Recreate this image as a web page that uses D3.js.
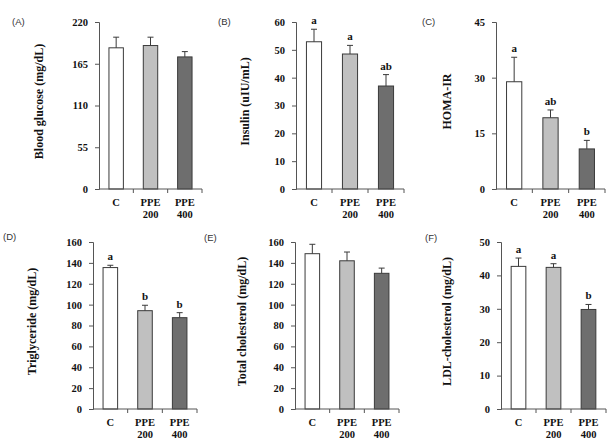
<!DOCTYPE html>
<html lang="en">
<head>
    <meta charset="UTF-8">
    <script src="https://d3js.org/d3.v7.min.js"></script>
    <style>
        body { margin: 0; background: #fff; }
        svg { display: block; }
        .tick-lab, .cat-lab, .ytitle, .sig { font-family: "Liberation Serif", "Times New Roman", serif; font-weight: bold; fill: #111; }
        .panel-lab { font-family: "Liberation Sans", Arial, sans-serif; font-size: 9.5px; fill: #333; }
    </style>
</head>
<body>
<div id="chart"></div>
<script>
    // groups
    const categories = ["C", "PPE 200", "PPE 400"];
    const catLines = [["C"], ["PPE", "200"], ["PPE", "400"]];
    const barColors = ["#ffffff", "#c0c0c0", "#6e6e6e"];

    // (A) blood glucose
    const glucose = [186, 189, 174];
    const glucoseErr = [14, 11, 7];
    const glucoseTicks = [0, 55, 110, 165, 220];

    // (B) insulin
    const insulin = [52.9, 48.5, 37.0];
    const insulinErr = [4.5, 3.1, 4.1];
    const insulinSig = ["a", "a", "ab"];
    const insulinTicks = [0, 10, 20, 30, 40, 50, 60];

    // (C) HOMA-IR
    const homa = [28.9, 19.2, 10.8];
    const homaErr = [6.6, 2.1, 2.3];
    const homaSig = ["a", "ab", "b"];
    const homaTicks = [0, 15, 30, 45];

    // (D) triglyceride
    const tg = [135.5, 94.2, 87.5];
    const tgErr = [2.2, 5.2, 4.8];
    const tgSig = ["a", "b", "b"];
    const tgTicks = [0, 20, 40, 60, 80, 100, 120, 140, 160];

    // (E) total cholesterol
    const tc = [148.8, 142, 130];
    const tcErr = [9, 8.4, 5];
    const tcTicks = [0, 20, 40, 60, 80, 100, 120, 140, 160];

    // (F) LDL-cholesterol
    const ldl = [42.7, 42.4, 29.8];
    const ldlErr = [2.5, 1.1, 1.5];
    const ldlSig = ["a", "a", "b"];
    const ldlTicks = [0, 10, 20, 30, 40, 50];

    const w = 613, h = 442;

    const panels = [
        { label: "(A)", title: "Blood glucose (mg/dL)", values: glucose, err: glucoseErr, sig: null, ticks: glucoseTicks,
          x0: 99, x1: 202, y0: 22, y1: 189, titleX: 40, labX: 12, labY: 25 },
        { label: "(B)", title: "Insulin (uIU/mL)", values: insulin, err: insulinErr, sig: insulinSig, ticks: insulinTicks,
          x0: 296, x1: 404, y0: 22, y1: 189, titleX: 246, labX: 218, labY: 25 },
        { label: "(C)", title: "HOMA-IR", values: homa, err: homaErr, sig: homaSig, ticks: homaTicks,
          x0: 496, x1: 605, y0: 22, y1: 189, titleX: 448, labX: 422, labY: 25 },
        { label: "(D)", title: "Triglyceride (mg/dL)", values: tg, err: tgErr, sig: tgSig, ticks: tgTicks,
          x0: 93, x1: 197, y0: 242, y1: 409, titleX: 33, labX: 3, labY: 240 },
        { label: "(E)", title: "Total cholesterol (mg/dL)", values: tc, err: tcErr, sig: null, ticks: tcTicks,
          x0: 295, x1: 399, y0: 242, y1: 409, titleX: 243, labX: 204, labY: 241 },
        { label: "(F)", title: "LDL-cholesterol (mg/dL)", values: ldl, err: ldlErr, sig: ldlSig, ticks: ldlTicks,
          x0: 501, x1: 606, y0: 242, y1: 409, titleX: 448, labX: 425, labY: 241 }
    ];

    const svg = d3.select("#chart")
        .append("svg")
        .attr("width", w)
        .attr("height", h);

    panels.forEach(p => drawPanel(p));

    function drawPanel(p) {
        const g = svg.append("g");

        const xScale = d3.scaleBand()
            .domain(categories)
            .range([p.x0, p.x1])
            .paddingInner(0.58)
            .paddingOuter(0.29);

        const yScale = d3.scaleLinear()
            .domain([0, d3.max(p.ticks)])
            .range([p.y1, p.y0]);

        // bars
        g.selectAll("rect.bar")
            .data(p.values)
            .enter()
            .append("rect")
            .attr("class", "bar")
            .attr("x", (d, i) => xScale(categories[i]))
            .attr("y", d => yScale(d))
            .attr("width", xScale.bandwidth())
            .attr("height", d => p.y1 - yScale(d))
            .attr("fill", (d, i) => barColors[i])
            .attr("stroke", "#3a3a3a")
            .attr("stroke-width", 1);

        // error bars (upper only)
        const cx = i => xScale(categories[i]) + xScale.bandwidth() / 2;
        p.values.forEach((v, i) => {
            const top = yScale(v + p.err[i]);
            g.append("line")
                .attr("x1", cx(i)).attr("x2", cx(i))
                .attr("y1", yScale(v)).attr("y2", top)
                .attr("stroke", "#3a3a3a").attr("stroke-width", 1);
            g.append("line")
                .attr("x1", cx(i) - 3).attr("x2", cx(i) + 3)
                .attr("y1", top).attr("y2", top)
                .attr("stroke", "#3a3a3a").attr("stroke-width", 1);
            if (p.sig) {
                g.append("text")
                    .attr("class", "sig")
                    .attr("x", cx(i))
                    .attr("y", top - 5)
                    .attr("text-anchor", "middle")
                    .attr("font-size", "11px")
                    .text(p.sig[i]);
            }
        });

        // y axis
        const yAxis = d3.axisLeft(yScale)
            .tickValues(p.ticks)
            .tickSize(4)
            .tickPadding(7)
            .tickFormat(d3.format("d"));

        const ya = g.append("g")
            .attr("transform", `translate(${p.x0},0)`)
            .call(yAxis);
        ya.select(".domain").attr("stroke", "#555");
        ya.selectAll(".tick line").attr("stroke", "#555");
        ya.selectAll(".tick text")
            .attr("class", "tick-lab")
            .attr("font-size", "10.5px")
            .attr("font-family", null);

        // x axis: line plus ticks at band boundaries
        const xa = g.append("g");
        xa.append("line")
            .attr("x1", p.x0).attr("x2", p.x1)
            .attr("y1", p.y1).attr("y2", p.y1)
            .attr("stroke", "#555");
        const step = xScale.step();
        d3.range(1, categories.length + 1).forEach(k => {
            const xx = p.x0 + k * step;
            xa.append("line")
                .attr("x1", xx).attr("x2", xx)
                .attr("y1", p.y1).attr("y2", p.y1 + 4)
                .attr("stroke", "#555");
        });

        // category labels
        catLines.forEach((lines, i) => {
            const t = g.append("text")
                .attr("class", "cat-lab")
                .attr("text-anchor", "middle")
                .attr("font-size", "10.5px");
            lines.forEach((ln, j) => {
                t.append("tspan")
                    .attr("x", cx(i))
                    .attr("y", p.y1 + 17 + j * 11.5)
                    .text(ln);
            });
        });

        // y axis title
        const midY = (p.y0 + p.y1) / 2 - 4;
        g.append("text")
            .attr("class", "ytitle")
            .attr("transform", `translate(${p.titleX},${midY}) rotate(-90)`)
            .attr("text-anchor", "middle")
            .attr("dominant-baseline", "middle")
            .attr("font-size", "12px")
            .text(p.title);

        // panel label
        g.append("text")
            .attr("class", "panel-lab")
            .attr("x", p.labX)
            .attr("y", p.labY)
            .text(p.label);
    }
</script>
</body>
</html>
